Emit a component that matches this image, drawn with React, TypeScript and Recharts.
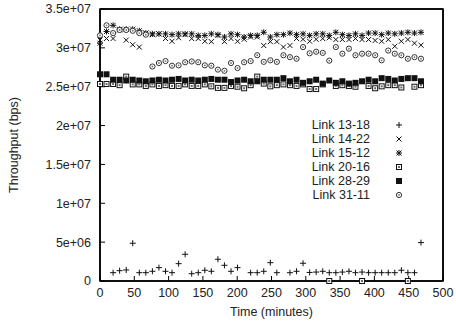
import React from 'react';
import { ScatterChart, Scatter, XAxis, YAxis, Legend, ReferenceArea } from 'recharts';

// Sample times (minutes)
const TIMES = [
  0, 9.5, 19.1, 28.6, 38.2, 47.7, 57.3, 66.8, 76.4, 85.9,
  95.5, 105, 114.6, 124.1, 133.7, 143.2, 152.8, 162.3, 171.9, 181.4,
  191, 200.5, 210.1, 219.6, 229.2, 238.7, 248.3, 257.8, 267.4, 276.9,
  286.5, 296, 305.6, 315.1, 324.7, 334.2, 343.8, 353.3, 362.9, 372.4,
  382, 391.5, 401.1, 410.6, 420.2, 429.7, 439.3, 448.8, 458.4, 467.9,
];

// Throughput values in Mbps (millions of bps); null = no sample
const LINK_13_18 = [
  null, null, 1.07, 1.33, 1.42, 4.86, 1.07, 1.07, 1.25, 1.72,
  1.25, 1.07, 2.23, 3.44, 0.94, 1.07, 1.38, 1.25, 2.8, 2.02,
  1.25, 1.72, null, 1.07, 1.07, 1.25, 2.36, 1.07, null, 1.07,
  1.25, 2.28, 1.1, 1.15, 1.25, 1.07, 1.07, 1.15, 1.25, 1.07,
  1.15, 1.07, 1.07, 1.07, 1.07, 1.07, 1.38, 1.07, 1.07, 4.94,
];
const LINK_14_22 = [
  31.0, 31.2, 31.2, 32.3, 31.0, 30.4, 30.1, 31.9, 31.7, 31.8,
  31.2, 30.85, 31.3, 31.7, 31.2, 31.2, 30.85, 30.8, 31.6, 30.8,
  31.2, 30.85, 31.1, 31.4, 31.4, 30.3, 30.8, 30.8, 30.1, 30.3,
  31.2, 31.1, 30.85, 31.1, 31.2, 31.3, 31.07, 31.07, 31.07, 31.2,
  31.07, 31.07, 30.95, 30.85, 31.07, 30.2, 30.85, 31.07, 30.6, 30.35,
];
const LINK_15_12 = [
  30.6, 32.1, 32.9, 32.4, 32.4, 32.4, 32.2, 31.9, 31.8, 31.8,
  31.8, 31.7, 31.8, 31.8, 31.8, 31.6, 31.6, 31.8, 31.7, 31.4,
  31.8, 31.7, 31.4, 31.6, 31.6, 32.0, 31.4, 31.7, 31.7, 31.9,
  31.7, 31.8, 31.6, 31.8, 31.8, 31.6, 32.0, 31.7, 31.6, 31.8,
  31.6, 31.9, 31.9, 31.7, 31.9, 31.8, 31.9, 32.0, 31.9, 32.0,
];
const LINK_20_16 = [
  25.35, 25.35, 25.35, 25.2, 26.3, 25.3, 25.3, 25.1, 25.3, 25.1,
  25.2, 25.1, 25.1, 25.3, 25.1, 25.1, 25.3, 25.05, 24.85, 24.85,
  25.1, 25.0, 24.8, 25.2, 26.3, 25.4, 25.05, 25.2, 25.3, 25.2,
  25.1, 25.3, 24.7, 24.7, 25.3, 0, 25.1, 25.2, 25.1, 25.0,
  0, 25.1, 24.8, 25.05, 25.2, 25.2, 24.9, 0, 25.0, 25.2,
];
const LINK_28_29 = [
  26.6, 26.6, 25.9, 25.9, 25.8, 25.9, 25.8, 25.7, 25.8, 25.9,
  25.8, 25.9, 26.0, 25.8, 25.9, 25.8, 25.9, 26.0, 25.9, 25.9,
  25.6, 25.8, 25.9, 25.7, 25.7, 25.9, 25.9, 25.9, 26.1, 25.7,
  25.9, 25.5, 25.7, 25.9, 25.4, 25.8, 25.5, 25.7, 25.4, 25.5,
  25.7, 25.9, 25.7, 26.1, 26.0, 25.8, 26.0, 26.1, 26.1, 25.7,
];
const LINK_31_11 = [
  31.6, 32.9, 31.9, 32.3, 32.3, 32.2, 31.9, 31.7, 27.6, 28.05,
  28.3, 27.7, 27.75, 28.15, 28.25, 28.15, 27.75, 27.7, 27.2, 27.05,
  28.05, 27.4, 28.15, 28.3, 29.05, 28.2, 28.4, 28.2, 29.05, 28.8,
  28.6, 30.1, 29.3, 29.5, 29.35, 28.35, 30.1, 29.25, 29.9, 29.05,
  29.25, 29.25, 29.05, 28.4, 29.65, 29.25, 29.05, 28.6, 28.8, 28.6,
];

const SERIES_NAMES = ['Link 13-18', 'Link 14-22', 'Link 15-12', 'Link 20-16', 'Link 28-29', 'Link 31-11'];
const SERIES_VALUES = [LINK_13_18, LINK_14_22, LINK_15_12, LINK_20_16, LINK_28_29, LINK_31_11];

const X_TICKS = [0, 50, 100, 150, 200, 250, 300, 350, 400, 450, 500];
const Y_TICKS = [0, 5e6, 1e7, 1.5e7, 2e7, 2.5e7, 3e7, 3.5e7];
const Y_TICK_LABELS = ['0', '5e+06', '1e+07', '1.5e+07', '2e+07', '2.5e+07', '3e+07', '3.5e+07'];

const FONT = "'Liberation Sans', Arial, Helvetica, sans-serif";
const FS = 12.5;
const INK = '#111';
const TEXT = '#222';

type P = { cx?: number; cy?: number };

const Plus = ({ cx = 0, cy = 0 }: P) => (
  <g stroke={INK} strokeWidth={1}>
    <line x1={cx - 3} y1={cy} x2={cx + 3} y2={cy} />
    <line x1={cx} y1={cy - 3} x2={cx} y2={cy + 3} />
  </g>
);
const Cross = ({ cx = 0, cy = 0 }: P) => (
  <g stroke={INK} strokeWidth={1}>
    <line x1={cx - 2.5} y1={cy - 2.5} x2={cx + 2.5} y2={cy + 2.5} />
    <line x1={cx - 2.5} y1={cy + 2.5} x2={cx + 2.5} y2={cy - 2.5} />
  </g>
);
const Star = ({ cx = 0, cy = 0 }: P) => (
  <g stroke={INK} strokeWidth={1}>
    <line x1={cx - 3} y1={cy} x2={cx + 3} y2={cy} />
    <line x1={cx} y1={cy - 3} x2={cx} y2={cy + 3} />
    <line x1={cx - 2.5} y1={cy - 2.5} x2={cx + 2.5} y2={cy + 2.5} />
    <line x1={cx - 2.5} y1={cy + 2.5} x2={cx + 2.5} y2={cy - 2.5} />
  </g>
);
const OpenSquare = ({ cx = 0, cy = 0 }: P) => (
  <g>
    <rect x={cx - 2.5} y={cy - 2.5} width={5} height={5} fill="#fff" stroke={INK} strokeWidth={1} />
    <rect x={cx - 1} y={cy - 1} width={2} height={2} fill="#666" />
  </g>
);
const FilledSquare = ({ cx = 0, cy = 0 }: P) => (
  <rect x={cx - 3} y={cy - 3} width={6} height={6} fill={INK} />
);
const OpenCircle = ({ cx = 0, cy = 0 }: P) => (
  <g>
    <circle cx={cx} cy={cy} r={2.6} fill="#fff" stroke="#333" strokeWidth={1} />
    <circle cx={cx} cy={cy} r={0.9} fill="#777" />
  </g>
);

const SHAPES = [Plus, Cross, Star, OpenSquare, FilledSquare, OpenCircle];

const buildData = (vals: (number | null)[]) =>
  TIMES.map((t, i) => ({ t, v: vals[i] == null ? null : (vals[i] as number) * 1e6 })).filter(
    (d) => d.v != null
  );

const renderLegend = () => (
  <div style={{ fontFamily: FONT, fontSize: FS, color: TEXT }}>
    {SERIES_NAMES.map((name, i) => {
      const Shape = SHAPES[i];
      return (
        <div key={name} style={{ display: 'flex', alignItems: 'center', height: 14 }}>
          <span style={{ width: 72, textAlign: 'right', whiteSpace: 'nowrap', lineHeight: '14px' }}>{name}</span>
          <svg width={10} height={14} style={{ marginLeft: 24, display: 'block' }}>
            <Shape cx={5} cy={7} />
          </svg>
        </div>
      );
    })}
  </div>
);

const YLabel = (props: any) => {
  const vb = props.viewBox || { x: 0, y: 0, width: 0, height: 0 };
  const cx = vb.x + 14;
  const cy = vb.y + vb.height / 2;
  return (
    <text
      x={cx}
      y={cy}
      transform={`rotate(-90 ${cx} ${cy})`}
      textAnchor="middle"
      dominantBaseline="central"
      fontFamily={FONT}
      fontSize={FS}
      fill={TEXT}
    >
      Throughput (bps)
    </text>
  );
};

const XLabel = (props: any) => {
  const vb = props.viewBox || { x: 0, y: 0, width: 0, height: 0 };
  const cx = vb.x + vb.width / 2;
  const cy = vb.y + 31;
  return (
    <text x={cx} y={cy} textAnchor="middle" dominantBaseline="central" fontFamily={FONT} fontSize={FS} fill={TEXT}>
      Time (minutes)
    </text>
  );
};

const tickStyle = { fill: TEXT, fontSize: FS, fontFamily: FONT };
const axisLineStyle = { stroke: '#000', strokeWidth: 1.5 };
const tickLineStyle = { stroke: '#000', strokeWidth: 1 };

export default function App() {
  return (
    <div style={{ position: 'absolute', left: 0, top: 0, background: '#fff' }}>
      <ScatterChart width={456} height={327} margin={{ top: 9, right: 13, bottom: 0, left: 0 }}>
        <XAxis
          type="number"
          dataKey="t"
          domain={[0, 500]}
          ticks={X_TICKS}
          interval={0}
          height={46}
          tickSize={-5}
          tickMargin={12}
          axisLine={axisLineStyle}
          tickLine={tickLineStyle}
          tick={tickStyle}
          label={<XLabel />}
        />
        <YAxis
          type="number"
          dataKey="v"
          domain={[0, 3.5e7]}
          ticks={Y_TICKS}
          interval={0}
          width={100}
          tickSize={-5}
          tickMargin={14}
          axisLine={axisLineStyle}
          tickLine={tickLineStyle}
          tick={tickStyle}
          tickFormatter={(v: number) => Y_TICK_LABELS[Y_TICKS.indexOf(v)] ?? String(v)}
          label={<YLabel />}
        />
        <XAxis
          xAxisId="top"
          orientation="top"
          mirror
          type="number"
          dataKey="t"
          domain={[0, 500]}
          ticks={X_TICKS}
          interval={0}
          tickSize={5}
          tick={false}
          allowDataOverflow
          axisLine={axisLineStyle}
          tickLine={tickLineStyle}
        />
        <YAxis
          yAxisId="right"
          orientation="right"
          mirror
          type="number"
          dataKey="v"
          domain={[0, 3.5e7]}
          ticks={Y_TICKS}
          interval={0}
          tickSize={5}
          tick={false}
          allowDataOverflow
          axisLine={axisLineStyle}
          tickLine={tickLineStyle}
        />
        <ReferenceArea
          x1={0}
          x2={500}
          y1={0}
          y2={3.5e7}
          fill="none"
          fillOpacity={0}
          stroke="#000"
          strokeWidth={1.5}
          ifOverflow="visible"
        />
        <Legend
          layout="vertical"
          align="center"
          verticalAlign="middle"
          wrapperStyle={{ left: 298, top: 118, width: 112, height: 84 }}
          content={renderLegend}
        />
        {SERIES_NAMES.map((name, i) => {
          const Shape = SHAPES[i];
          return (
            <Scatter
              key={name}
              name={name}
              data={buildData(SERIES_VALUES[i])}
              isAnimationActive={false}
              shape={(p: any) => <Shape cx={p.cx} cy={p.cy} />}
            />
          );
        })}
      </ScatterChart>
    </div>
  );
}
